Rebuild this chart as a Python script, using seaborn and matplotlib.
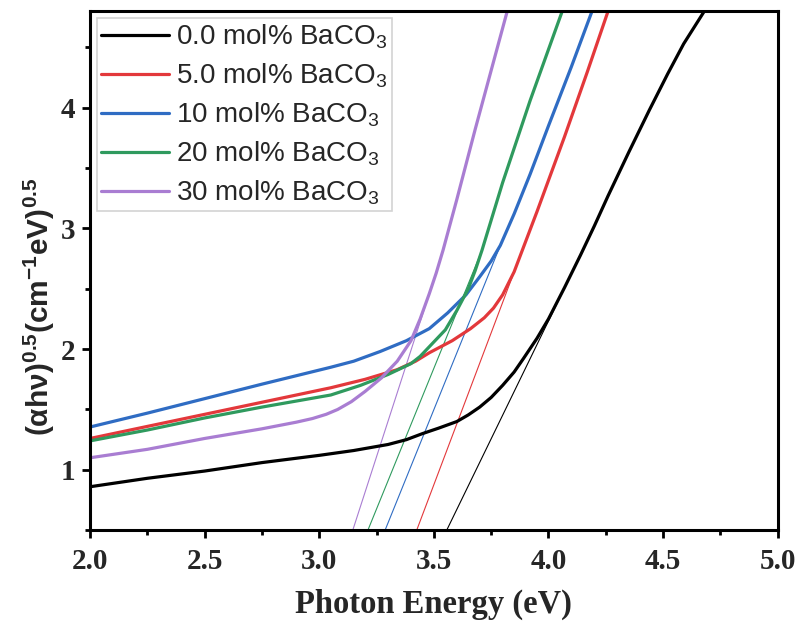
import numpy as np
import pandas as pd
import seaborn as sns
import matplotlib.pyplot as plt
from matplotlib.ticker import MultipleLocator

# sample names and colours
samples = ['0.0 mol% BaCO$\\mathregular{_3}$', '5.0 mol% BaCO$\\mathregular{_3}$',
           '10 mol% BaCO$\\mathregular{_3}$', '20 mol% BaCO$\\mathregular{_3}$',
           '30 mol% BaCO$\\mathregular{_3}$']
colors = ['#000000', '#E3383B', '#2F6CC3', '#2F9A5E', '#A97DD2']

# Tauc curves
e_00 = [2.0, 2.25, 2.5, 2.75, 3.0, 3.15, 3.3, 3.38, 3.45, 3.52, 3.6, 3.65, 3.7, 3.75, 3.8,
        3.85, 3.89, 3.95, 4.0, 4.07, 4.14, 4.2, 4.26, 4.35, 4.44, 4.52, 4.59, 4.68]
v_00 = [0.86, 0.93, 0.99, 1.06, 1.12, 1.16, 1.21, 1.25, 1.30, 1.345, 1.40, 1.455, 1.52, 1.60, 1.70,
        1.81, 1.92, 2.09, 2.25, 2.51, 2.78, 3.02, 3.27, 3.63, 3.98, 4.28, 4.53, 4.80]

e_05 = [2.0, 2.25, 2.5, 2.75, 3.05, 3.2, 3.34, 3.42, 3.48, 3.58, 3.66, 3.72, 3.76, 3.80, 3.85,
        3.89, 3.95, 4.07, 4.17, 4.26]
v_05 = [1.26, 1.36, 1.46, 1.56, 1.68, 1.75, 1.83, 1.90, 1.97, 2.07, 2.17, 2.26, 2.34, 2.45, 2.64,
        2.84, 3.14, 3.76, 4.30, 4.80]

e_10 = [2.0, 2.25, 2.5, 2.75, 3.05, 3.15, 3.265, 3.38, 3.48, 3.56, 3.64, 3.70, 3.75, 3.79,
        3.85, 3.92, 4.0, 4.1, 4.19]
v_10 = [1.355, 1.47, 1.59, 1.71, 1.85, 1.90, 1.98, 2.07, 2.17, 2.30, 2.45, 2.60, 2.73, 2.86,
        3.12, 3.45, 3.85, 4.34, 4.80]

e_20 = [2.0, 2.25, 2.5, 2.75, 3.05, 3.18, 3.30, 3.40, 3.44, 3.48, 3.55, 3.60, 3.65, 3.68,
        3.71, 3.80, 3.92, 4.06]
v_20 = [1.24, 1.33, 1.43, 1.52, 1.62, 1.70, 1.79, 1.88, 1.94, 2.02, 2.16, 2.32, 2.50, 2.65,
        2.82, 3.38, 4.06, 4.80]

e_30 = [2.0, 2.25, 2.5, 2.75, 2.9, 2.97, 3.03, 3.08, 3.14, 3.2, 3.27, 3.34, 3.40, 3.44, 3.48,
        3.51, 3.54, 3.60, 3.68, 3.82]
v_30 = [1.10, 1.17, 1.26, 1.34, 1.395, 1.425, 1.46, 1.50, 1.565, 1.65, 1.76, 1.90, 2.07, 2.25,
        2.46, 2.63, 2.82, 3.24, 3.82, 4.80]

energies = [e_00, e_05, e_10, e_20, e_30]
values = [v_00, v_05, v_10, v_20, v_30]

# tangent (extrapolation) lines: start on the bottom axis, end on the curve
tan_x0 = [3.556, 3.425, 3.287, 3.212, 3.146]
tan_y0 = [0.5, 0.5, 0.5, 0.5, 0.5]
tan_x1 = [4.14, 3.89, 3.79, 3.71, 3.48]
tan_y1 = [2.78, 2.84, 2.86, 2.82, 2.46]

curves = pd.concat([pd.DataFrame({'E': e, 'F': v, 'sample': s})
                    for e, v, s in zip(energies, values, samples)], ignore_index=True)
tangents = pd.concat([pd.DataFrame({'E': [a, b], 'F': [c, d], 'sample': s})
                      for a, c, b, d, s in zip(tan_x0, tan_y0, tan_x1, tan_y1, samples)],
                     ignore_index=True)

sns.set_theme(style='ticks')
plt.rcParams['font.family'] = ['Liberation Sans', 'DejaVu Sans']

fig, ax = plt.subplots(figsize=(8.05, 6.23), dpi=100)
fig.subplots_adjust(left=0.112, right=0.966, bottom=0.149, top=0.982)

palette = dict(zip(samples, colors))
sns.lineplot(data=tangents, x='E', y='F', hue='sample', palette=palette, sort=False,
             estimator=None, units='sample', lw=0.8, legend=False, ax=ax)
sns.lineplot(data=curves, x='E', y='F', hue='sample', palette=palette, sort=False,
             estimator=None, lw=2.3, ax=ax)

ax.set_xlim(2.0, 5.0)
ax.set_ylim(0.5, 4.8)
ax.xaxis.set_major_locator(MultipleLocator(0.5))
ax.xaxis.set_minor_locator(MultipleLocator(0.25))
ax.yaxis.set_major_locator(MultipleLocator(1))
ax.yaxis.set_minor_locator(MultipleLocator(0.5))
ax.set_yticks([1, 2, 3, 4])
ax.set_xticks(np.arange(2.0, 5.01, 0.5))
ax.set_xticklabels([f'{t:.1f}' for t in ax.get_xticks()])

for sp in ax.spines.values():
    sp.set_linewidth(2.2)
    sp.set_color('black')
ax.tick_params(which='major', direction='out', length=6, width=2, color='black')
ax.tick_params(axis='x', which='major', pad=7)
ax.tick_params(axis='y', which='major', pad=5)
ax.tick_params(which='minor', direction='out', length=3.5, width=2, color='black')
for lab in ax.get_xticklabels() + ax.get_yticklabels():
    lab.set_fontfamily('Liberation Serif')
    lab.set_fontweight('bold')
    lab.set_fontsize(21)

ax.set_xlabel('Photon Energy (eV)', family='Liberation Serif', weight='bold',
              fontsize=23.5, labelpad=10)
ax.set_ylabel('$\\mathregular{(αhν)^{0.5}(cm^{-1}eV)^{0.5}}$', weight='bold',
              fontsize=21.5)
ax.yaxis.set_label_coords(-0.048, 0.43)

leg = ax.legend(loc='upper left', fontsize=20, frameon=True, fancybox=False,
                handlelength=2.45, handletextpad=0.25, labelspacing=0.38,
                borderaxespad=0.25, borderpad=0.15)
leg.get_frame().set_edgecolor('#c8c8c8')
leg.get_frame().set_linewidth(1.2)
for line in leg.get_lines():
    line.set_linewidth(2.3)

fig.savefig('out.png', dpi=100)
